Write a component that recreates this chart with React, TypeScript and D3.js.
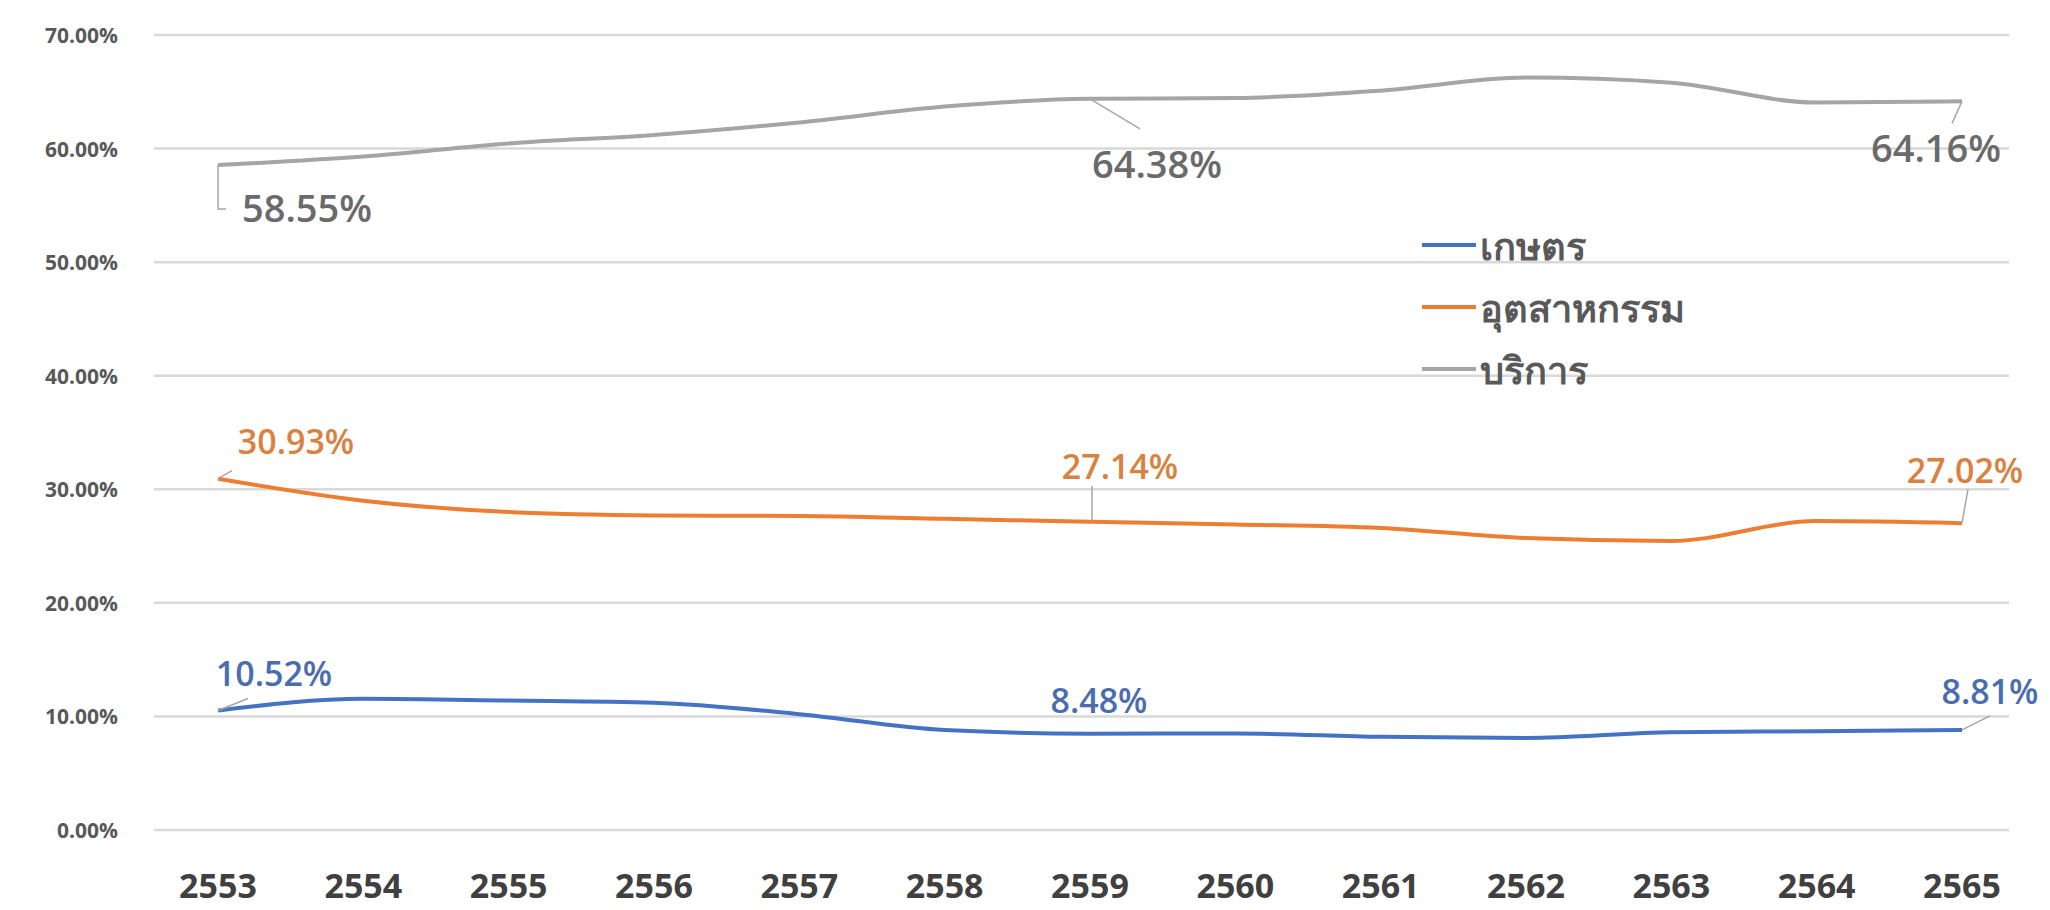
import React from "react";
import * as d3 from "d3";

const years = ["2553", "2554", "2555", "2556", "2557", "2558", "2559", "2560", "2561", "2562", "2563", "2564", "2565"];
const agriculture = [10.52, 11.55, 11.4, 11.2, 10.2, 8.8, 8.48, 8.5, 8.2, 8.1, 8.6, 8.7, 8.81];
const industry = [30.93, 29.0, 28.0, 27.7, 27.65, 27.4, 27.14, 26.9, 26.6, 25.7, 25.45, 27.2, 27.02];
const services = [58.55, 59.3, 60.45, 61.2, 62.3, 63.7, 64.38, 64.45, 65.1, 66.25, 65.8, 64.05, 64.16];
const yTicks = [0, 10, 20, 30, 40, 50, 60, 70];
const seriesNames = ["เกษตร", "อุตสาหกรรม", "บริการ"];
const seriesColors = ["#4472C4", "#ED7D31", "#A5A5A5"];
const labelColors = ["#4a6db0", "#d9823f", "#6a6a6a"];
const labeledIdx = [0, 6, 12];

const W = 2050;
const H = 910;

export default function App() {
  const x = d3.scalePoint<string>().domain(years).range([218, 1962]);
  const y = d3.scaleLinear().domain([0, 70]).range([830, 35]);
  const line = d3
    .line<number>()
    .x((_, i) => x(years[i]) as number)
    .y((d) => y(d))
    .curve(d3.curveMonotoneX);

  const allSeries = [agriculture, industry, services];
  const fmt = (v: number) => v.toFixed(2) + "%";
  const font = "'Open Sans', 'Noto Sans', sans-serif";

  // label offsets (dx, dy from point) and leader lines, per series and labelled index
  const labelPos: Record<string, { dx: number; dy: number; leader: [number, number][] }> = {
    "0-0": { dx: 56, dy: -38, leader: [[0, 0], [30, -12]] },
    "0-6": { dx: 9, dy: -34, leader: [] },
    "0-12": { dx: 28, dy: -39, leader: [[0, 0], [28, -14]] },
    "1-0": { dx: 78, dy: -38, leader: [[0, 0], [14, -8]] },
    "1-6": { dx: 30, dy: -56, leader: [[2, 0], [2, -36]] },
    "1-12": { dx: 3, dy: -53, leader: [[0, 0], [6, -34]] },
    "2-0": { dx: 89, dy: 42, leader: [[0, 0], [0, 44], [8, 44]] },
    "2-6": { dx: 67, dy: 64, leader: [[0, 0], [50, 30]] },
    "2-12": { dx: -26, dy: 46, leader: [[0, 0], [-10, 22]] },
  };

  return (
    <div style={{ position: "absolute", left: 0, top: 0 }}>
      <svg width={W} height={H} style={{ display: "block", background: "#fff" }}>
        {yTicks.map((t) => (
          <g key={t}>
            <line x1={154} x2={2009} y1={y(t)} y2={y(t)} stroke="#d9d9d9" strokeWidth={2.5} />
            <text
              x={118}
              y={y(t)}
              textAnchor="end"
              dominantBaseline="central"
              fontFamily={font}
              fontWeight={700}
              fontSize={21}
              fill="#595959"
            >
              {t.toFixed(2) + "%"}
            </text>
          </g>
        ))}
        {years.map((yr) => (
          <text
            key={yr}
            x={x(yr)}
            y={898}
            textAnchor="middle"
            fontFamily={font}
            fontWeight={700}
            fontSize={34}
            fill="#404040"
          >
            {yr}
          </text>
        ))}
        {allSeries.map((s, si) => (
          <path key={si} d={line(s) || ""} fill="none" stroke={seriesColors[si]} strokeWidth={4} strokeLinejoin="round" />
        ))}
        {allSeries.map((s, si) =>
          labeledIdx.map((i) => {
            const px = x(years[i]) as number;
            const py = y(s[i]);
            const p = labelPos[`${si}-${i}`];
            return (
              <g key={`${si}-${i}`}>
                {p.leader.length > 1 && (
                  <polyline
                    points={p.leader.map(([a, b]) => `${px + a},${py + b}`).join(" ")}
                    fill="none"
                    stroke="#a6a6a6"
                    strokeWidth={1.5}
                  />
                )}
                <text
                  x={px + p.dx}
                  y={py + p.dy}
                  textAnchor="middle"
                  dominantBaseline="central"
                  fontFamily={font}
                  fontWeight={600}
                  fontSize={si === 2 ? 38 : 34}
                  fill={labelColors[si]}
                >
                  {fmt(s[i])}
                </text>
              </g>
            );
          })
        )}
        {seriesNames.map((n, i) => (
          <g key={n}>
            <line x1={1422} x2={1476} y1={245 + i * 62} y2={245 + i * 62} stroke={seriesColors[i]} strokeWidth={4} />
            <text
              x={1480}
              y={245 + i * 62}
              dominantBaseline="central"
              fontFamily={font}
              fontWeight={700}
              fontSize={38}
              fill="#595959"
            >
              {n}
            </text>
          </g>
        ))}
      </svg>
    </div>
  );
}
